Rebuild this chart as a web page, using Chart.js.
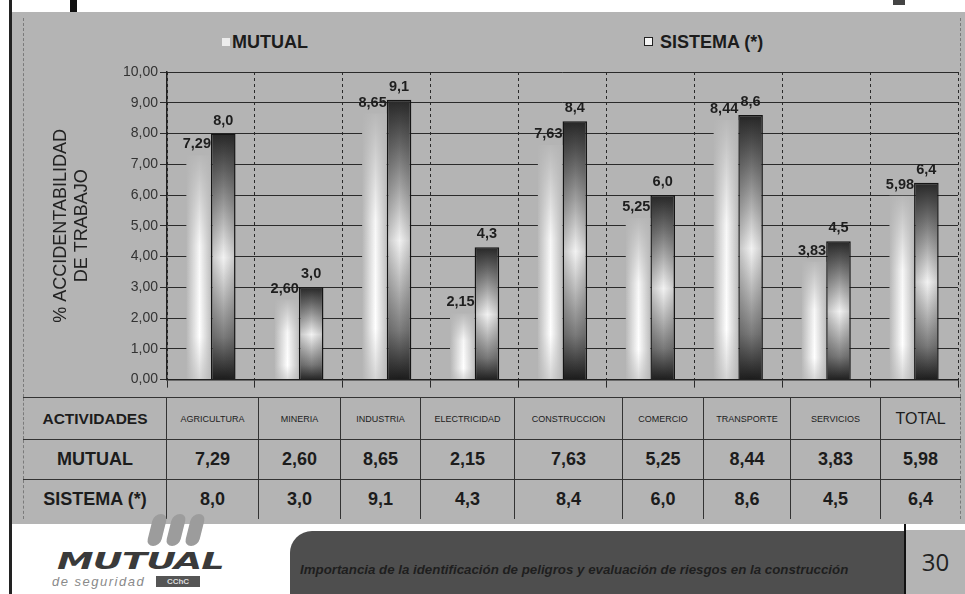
<!DOCTYPE html>
<html>
<head>
<meta charset="utf-8">
<script src="https://cdn.jsdelivr.net/npm/chart.js@4.4.1/dist/chart.umd.min.js"></script>
<style>
    body { margin: 0; background: #fff; }
    #slide { position: relative; width: 965px; height: 594px; overflow: hidden; background: #fff; font-family: "Liberation Sans", Arial, sans-serif; }
    .panel { position: absolute; left: 12px; top: 12px; width: 953px; height: 512px; background: #b4b4b4; }
    .lineaIzq { position: absolute; left: 9px; top: 0; width: 3px; height: 594px; background: #222; }
    .marco { position: absolute; left: 23px; top: 18px; width: 936px; height: 379px; border-left: 1px dashed #7a7a7a; border-right: 1px dashed #7a7a7a; }
    .corte1 { position: absolute; left: 70px; top: 0; width: 7px; height: 12px; background: #111; }
    .corte2 { position: absolute; left: 893px; top: 0; width: 12px; height: 5px; background: #444; }
    #accChart { position: absolute; left: 0; top: 0; }
    .leyenda { position: absolute; top: 31px; font-weight: bold; font-size: 18px; color: #1c1c1c; line-height: 22px; }
    .leyenda span { display: inline-block; width: 8px; height: 8px; margin-right: 2px; vertical-align: 2px; }
    #tabla { position: absolute; left: 23px; top: 397px; width: 937px; border-collapse: collapse; table-layout: fixed; color: #1c1c1c; }
    #tabla td { text-align: center; border: 1.5px solid #333; padding: 0; }
    #tabla tr td:first-child { border-left: 1px dashed #7a7a7a; }
    #tabla tr td:last-child { border-right: 1px dashed #7a7a7a; }
    #tabla tr:last-child td { border-bottom: none; }
    #tabla tr.cab td { height: 41px; font-size: 9px; }
    #tabla tr.fila td { height: 39px; font-size: 18px; font-weight: bold; }
    #tabla tr.cab td.tit { font-size: 15.5px; font-weight: bold; }
    #tabla tr.cab td.tot { font-size: 16px; }
    .pill { position: absolute; top: 514px; width: 14px; height: 32px; border-radius: 7px; background: #9c9c9c; transform: skewX(-14deg); }
    .logo { position: absolute; left: 57px; top: 548px; font-family: "DejaVu Sans", sans-serif; font-weight: bold; font-style: italic; font-size: 23px; color: #3a3a3a; transform: scaleX(1.6); transform-origin: left top; letter-spacing: -0.5px; }
    .seg { position: absolute; left: 52px; top: 574px; font-style: italic; font-size: 13px; color: #8a8a8a; letter-spacing: 1.5px; }
    .cchc { position: absolute; left: 156px; top: 576px; width: 44px; height: 11px; background: #555; color: #ddd; font-size: 8px; font-weight: bold; line-height: 11px; text-align: center; }
    .banda { position: absolute; left: 290px; top: 531px; width: 615px; height: 63px; background: #4e4e4e; border-top-left-radius: 22px; }
    .banda div { position: absolute; left: 10px; top: 31px; font-size: 13.3px; font-style: italic; font-weight: bold; color: #1e1e1e; white-space: nowrap; }
    .lineaDer { position: absolute; left: 904px; top: 524px; width: 2px; height: 70px; background: #111; }
    .pagina { position: absolute; left: 906px; top: 530px; width: 59px; height: 64px; background: #b4b4b4; font-family: "Open Sans", sans-serif; font-size: 24px; color: #222; text-align: center; line-height: 64px; }
</style>
</head>
<body>
<div id="slide">
    <div class="panel"></div>
    <div class="lineaIzq"></div>
    <div class="corte1"></div>
    <div class="corte2"></div>
    <div class="marco"></div>
    <div class="leyenda" style="left:222px"><span style="background:#ececec"></span>MUTUAL</div>
    <div class="leyenda" style="left:644px"><span style="background:#f4f4f4;border:1px solid #222;width:7px;height:7px"></span> SISTEMA (*)</div>
    <canvas id="accChart" width="965" height="390"></canvas>
    <table id="tabla"></table>
    <div class="pill" style="left:150px"></div>
    <div class="pill" style="left:169px"></div>
    <div class="pill" style="left:188px"></div>
    <div class="logo">MUTUAL</div>
    <div class="seg">de seguridad</div>
    <div class="cchc">CChC</div>
    <div class="banda"><div>Importancia de la identificación de peligros y evaluación de riesgos en la construcción</div></div>
    <div class="lineaDer"></div>
    <div class="pagina">30</div>
</div>

<script>
// datos
const categorias = ['AGRICULTURA', 'MINERIA', 'INDUSTRIA', 'ELECTRICIDAD', 'CONSTRUCCION', 'COMERCIO', 'TRANSPORTE', 'SERVICIOS', 'TOTAL'];
const mutual = [7.29, 2.60, 8.65, 2.15, 7.63, 5.25, 8.44, 3.83, 5.98];
const sistema = [8.0, 3.0, 9.1, 4.3, 8.4, 6.0, 8.6, 4.5, 6.4];
const ticksY = [0, 1, 2, 3, 4, 5, 6, 7, 8, 9, 10];

const CAT_PCT = 0.56;
const GRIS = '#b4b4b4';

function fmt(v, dec) {
    return v.toFixed(dec).replace('.', ',');
}

// tabla de abajo
const colW = [143, 92, 82, 80, 94, 108, 81, 87, 90, 80];
let html = '<colgroup>' + colW.map(w => '<col style="width:' + w + 'px">').join('') + '</colgroup>';
html += '<tr class="cab"><td class="tit">ACTIVIDADES</td>' + categorias.map((c, i) =>
    '<td' + (i === categorias.length - 1 ? ' class="tot"' : '') + '>' + c + '</td>').join('') + '</tr>';
html += '<tr class="fila"><td>MUTUAL</td>' + mutual.map(v => '<td>' + fmt(v, 2) + '</td>').join('') + '</tr>';
html += '<tr class="fila"><td>SISTEMA (*)</td>' + sistema.map(v => '<td>' + fmt(v, 1) + '</td>').join('') + '</tr>';
document.getElementById('tabla').innerHTML = html;

// relleno de cada barra con un pequeño canvas
function barFill(context) {
    const chart = context.chart;
    const xs = chart.scales.x, ys = chart.scales.y;
    if (!chart.chartArea || !xs || !ys) return '#dddddd';
    const d = context.datasetIndex;
    const catW = xs.width / categorias.length;
    const w = catW * CAT_PCT / 2;
    const cx = xs.getPixelForValue(context.dataIndex);
    const left = Math.floor(d === 0 ? cx - w : cx);
    const top = Math.floor(ys.getPixelForValue(context.raw));
    const W = Math.ceil(w) + 2;
    const H = Math.max(2, Math.ceil(ys.getPixelForValue(0)) - top + 2);

    const off = document.createElement('canvas');
    off.width = W; off.height = H;
    const c = off.getContext('2d');
    let g;
    if (d === 0) {
        g = c.createLinearGradient(0, 0, W, 0);
        g.addColorStop(0, GRIS);
        g.addColorStop(0.5, '#ffffff');
        g.addColorStop(1, GRIS);
        c.fillStyle = g;
        c.fillRect(0, 0, W, H);
        g = c.createLinearGradient(0, 0, 0, H);
        g.addColorStop(0, 'rgba(180,180,180,0.95)');
        g.addColorStop(0.4, 'rgba(180,180,180,0.1)');
        g.addColorStop(0.8, 'rgba(180,180,180,0)');
        g.addColorStop(1, 'rgba(180,180,180,0.6)');
        c.fillStyle = g;
        c.fillRect(0, 0, W, H);
    } else {
        g = c.createLinearGradient(0, 0, 0, H);
        g.addColorStop(0, '#262626');
        g.addColorStop(0.18, '#6e6e6e');
        g.addColorStop(0.5, '#f2f2f2');
        g.addColorStop(0.82, '#7a7a7a');
        g.addColorStop(1, '#161616');
        c.fillStyle = g;
        c.fillRect(0, 0, W, H);
        g = c.createLinearGradient(0, 0, W, 0);
        g.addColorStop(0, 'rgba(40,40,40,0.25)');
        g.addColorStop(0.5, 'rgba(40,40,40,0)');
        g.addColorStop(1, 'rgba(40,40,40,0.25)');
        c.fillStyle = g;
        c.fillRect(0, 0, W, H);
    }
    const pat = chart.ctx.createPattern(off, 'no-repeat');
    pat.setTransform(new DOMMatrix().translate(left, top));
    return pat;
}

// etiquetas de valores sobre las barras
const etiquetas = {
    id: 'etiquetas',
    afterDatasetsDraw(chart) {
        const ctx = chart.ctx;
        ctx.save();
        ctx.font = 'bold 14.5px "Liberation Sans", Arial';
        ctx.fillStyle = '#1e1e1e';
        ctx.textBaseline = 'middle';
        chart.data.datasets.forEach((ds, d) => {
            chart.getDatasetMeta(d).data.forEach((bar, i) => {
                if (d === 0) {
                    ctx.textAlign = 'right';
                    ctx.fillText(fmt(ds.data[i], 2), bar.x + bar.width / 2, bar.y - 11);
                } else {
                    ctx.textAlign = 'center';
                    ctx.fillText(fmt(ds.data[i], 1), bar.x, bar.y - 13);
                }
            });
        });
        ctx.restore();
    }
};

const chartConfig = {
    type: 'bar',
    data: {
        labels: categorias,
        datasets: [{
            label: 'MUTUAL',
            data: mutual,
            backgroundColor: barFill,
            borderWidth: 0
        }, {
            label: 'SISTEMA (*)',
            data: sistema,
            backgroundColor: barFill,
            borderColor: '#151515',
            borderWidth: 1.5
        }]
    },
    options: {
        responsive: false,
        animation: false,
        layout: { padding: { left: 46, top: 72, right: 7, bottom: 0 } },
        datasets: { bar: { barPercentage: 1, categoryPercentage: CAT_PCT } },
        plugins: {
            legend: { display: false },
            tooltip: { enabled: false }
        },
        scales: {
            x: {
                grid: { color: '#2a2a2a', lineWidth: 1, tickLength: 8, offset: true },
                border: { display: true, color: '#222', width: 1.5, dash: [3, 3] },
                ticks: { display: false },
                afterFit: s => { s.height = 10; }
            },
            y: {
                min: 0,
                max: 10,
                afterBuildTicks: s => { s.ticks = ticksY.map(v => ({ value: v })); },
                ticks: {
                    callback: v => fmt(v, 2),
                    color: '#333',
                    font: { family: '"Liberation Sans", Arial', size: 14 },
                    padding: 2
                },
                grid: { color: '#2a2a2a', lineWidth: 1, tickLength: 7 },
                border: { display: true, color: '#222', width: 1.5 },
                title: {
                    display: true,
                    text: ['% ACCIDENTABILIDAD', 'DE TRABAJO'],
                    color: '#222',
                    font: { family: '"Liberation Sans", Arial', size: 18 },
                    padding: 4
                },
                afterFit: s => { s.width = 121; }
            }
        }
    },
    plugins: [etiquetas]
};

new Chart(document.getElementById('accChart').getContext('2d'), chartConfig);
</script>
</body>
</html>
